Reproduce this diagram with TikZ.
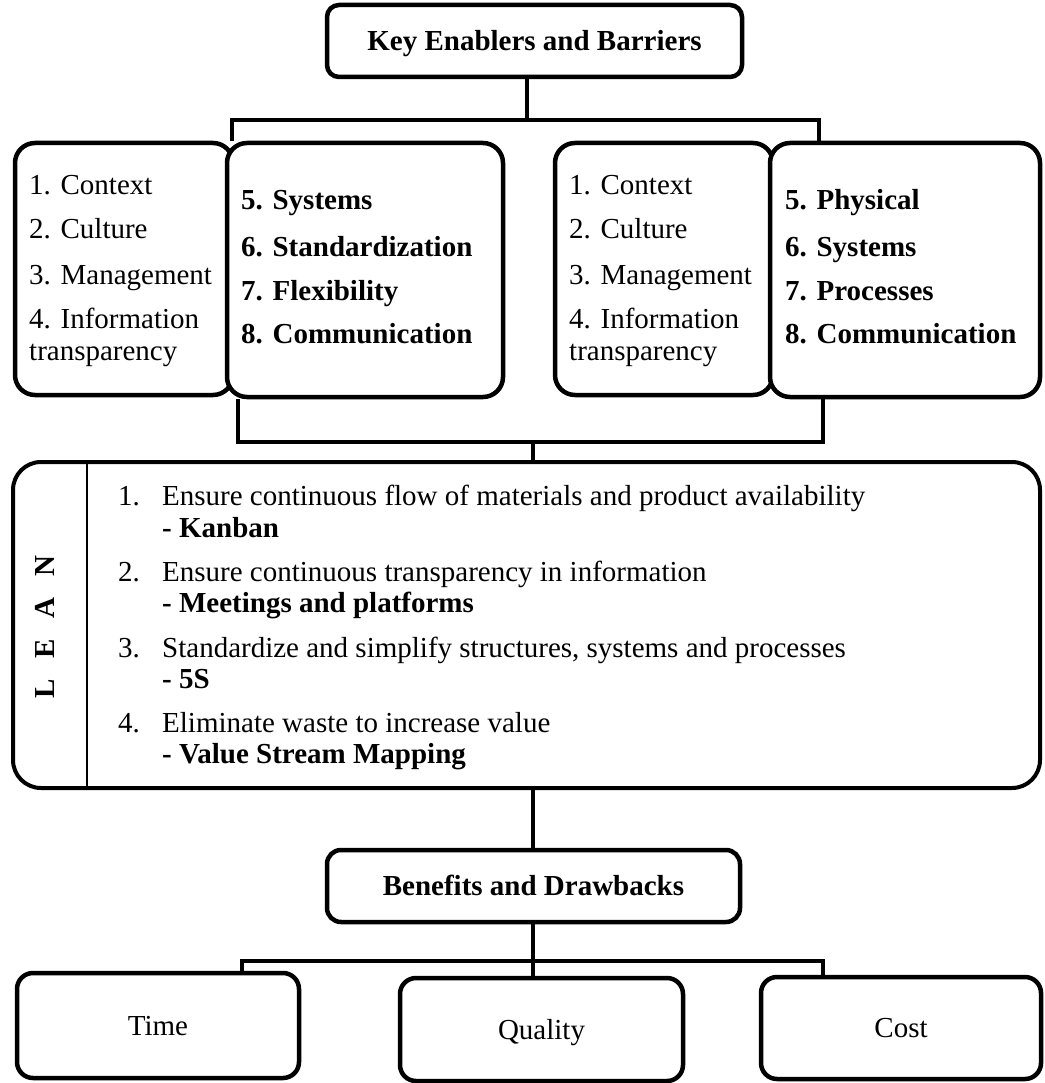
\documentclass[tikz,border=0pt]{standalone}
\usepackage{fontspec}
\setmainfont{Liberation Serif}
\newcommand\bodysize{\fontsize{29}{31}\selectfont}
\begin{document}
\begin{tikzpicture}[x=1pt,y=-1pt,
  panel/.style={draw, line width=4.5pt, fill=white, inner sep=0pt,
    text height=19.5pt, text depth=0pt, font=\bodysize},
  link/.style={line width=4pt},
  item/.style={anchor=base west, inner sep=0pt, font=\bodysize},
  bitem/.style={item, font=\bodysize\bfseries}]
\useasboundingbox (0,0) rectangle (1044,1083);

% header
\node[panel, rounded corners=12pt, minimum width=415pt, minimum height=72pt]
  (kb) at (534.5,41) {\bfseries Key Enablers and Barriers};

% enabler / barrier groups
\node[panel, rounded corners=20pt, minimum width=218pt, minimum height=252pt] (ga) at (124,269) {};
\node[panel, rounded corners=20pt, minimum width=276pt, minimum height=254pt] (gb) at (365,270) {};
\node[panel, rounded corners=20pt, minimum width=218pt, minimum height=252pt] (gc) at (664,269) {};
\node[panel, rounded corners=20pt, minimum width=270pt, minimum height=254pt] (gd) at (905,270) {};

\node[item] (ga1) at (29,195) {1. Context};
\node[item] (ga2) at (29,238) {2. Culture};
\node[item] (ga3) at (29,284) {3. Management};
\node[item] (ga4) at (29,328) {4. Information};
\node[item] (ga5) at (29,360) {transparency};

\node[bitem] (gb1) at (241,210) {5. Systems};
\node[bitem] (gb2) at (241,256) {6. Standardization};
\node[bitem] (gb3) at (241,300) {7. Flexibility};
\node[bitem] (gb4) at (241,343) {8. Communication};

\node[item] (gc1) at (569,195) {1. Context};
\node[item] (gc2) at (569,238) {2. Culture};
\node[item] (gc3) at (569,284) {3. Management};
\node[item] (gc4) at (569,328) {4. Information};
\node[item] (gc5) at (569,360) {transparency};

\node[bitem] (gd1) at (785,210) {5. Physical};
\node[bitem] (gd2) at (785,256) {6. Systems};
\node[bitem] (gd3) at (785,300) {7. Processes};
\node[bitem] (gd4) at (785,343) {8. Communication};

% LEAN block
\node[panel, line width=4pt, rounded corners=28pt, minimum width=1027pt, minimum height=326pt]
  (lean) at (526.5,625) {};
\coordinate (dv) at (87,0);
\draw[line width=2pt] (dv |- lean.north) -- (dv |- lean.south);
\node[rotate=90, inner sep=0pt, text height=19.5pt, text depth=0pt, font=\bodysize\bfseries]
  (leanlbl) at (45,627) {L\hspace{21pt}E\hspace{21pt}A\hspace{21pt}N};

\node[item] (n1) at (118,505) {1.};
\node[item] (t1) at (162,505) {Ensure continuous flow of materials and product availability};
\node[bitem] (s1) at (162,537) {- Kanban};
\node[item] (n2) at (118,581) {2.};
\node[item] (t2) at (162,581) {Ensure continuous transparency in information};
\node[bitem] (s2) at (162,612) {- Meetings and platforms};
\node[item] (n3) at (118,657) {3.};
\node[item] (t3) at (162,657) {Standardize and simplify structures, systems and processes};
\node[bitem] (s3) at (162,688) {- 5S};
\node[item] (n4) at (118,732) {4.};
\node[item] (t4) at (162,732) {Eliminate waste to increase value};
\node[bitem] (s4) at (162,763) {- Value Stream Mapping};

% outcomes
\node[panel, rounded corners=14pt, minimum width=413pt, minimum height=72pt]
  (ben) at (533.5,886) {\bfseries Benefits and Drawbacks};
\node[panel, rounded corners=16pt, minimum width=282pt, minimum height=105pt] (time) at (158,1025.5) {Time};
\node[panel, rounded corners=16pt, minimum width=283pt, minimum height=103pt] (qual) at (541.5,1029.5) {Quality};
\node[panel, rounded corners=16pt, minimum width=280pt, minimum height=102pt] (cost) at (901,1028) {Cost};

% connectors: header to groups
\coordinate (j1) at (527,120);
\coordinate (j1l) at (232,120);
\coordinate (j1r) at (819,120);
\draw[link] (j1 |- kb.south) -- (j1);
\draw[link] (j1l |- ga.north) -- (j1l) -- (j1r) -- (j1r |- gd.north);

% groups to LEAN
\coordinate (j2) at (533,442);
\coordinate (j2l) at (238,442);
\coordinate (j2r) at (823,442);
\draw[link] (j2l |- gb.south) -- (j2l) -- (j2r) -- (j2r |- gd.south);
\draw[link] (j2) -- (j2 |- lean.north);

% LEAN to outcomes
\coordinate (j3) at (533,961);
\coordinate (j3l) at (242,961);
\coordinate (j3r) at (823,961);
\draw[link] (j3 |- lean.south) -- (j3 |- ben.north);
\draw[link] (j3 |- ben.south) -- (j3 |- qual.north);
\draw[link] (j3l |- time.north) -- (j3l) -- (j3r) -- (j3r |- cost.north);
\end{tikzpicture}
\end{document}
